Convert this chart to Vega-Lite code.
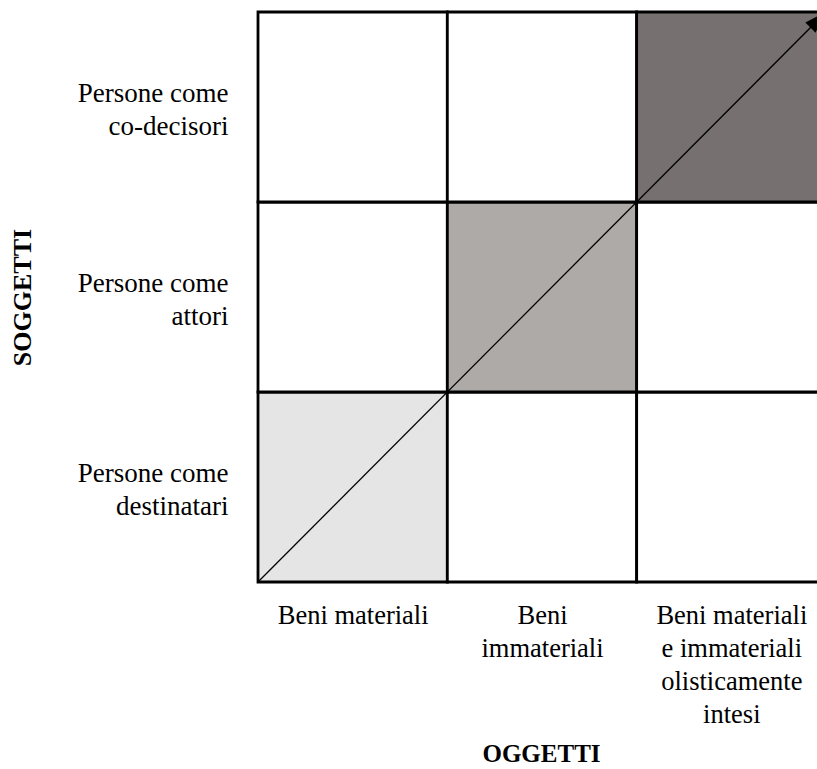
{
  "$schema": "https://vega.github.io/schema/vega-lite/v6.json",
  "width": 559,
  "height": 570,
  "autosize": {"type": "none"},
  "padding": {"left": 258, "top": 12, "right": 0, "bottom": 187},
  "background": "white",
  "config": {"view": {"stroke": null}, "font": "Liberation Serif"},
  "layer": [
    {
      "data": {"values": [
        {"oggetto": "Beni materiali", "o0": 0, "o1": 1, "soggetto": "Persone come destinatari", "s0": 0, "s1": 1, "livello": "basso"},
        {"oggetto": "Beni immateriali", "o0": 1, "o1": 2, "soggetto": "Persone come destinatari", "s0": 0, "s1": 1, "livello": "nessuno"},
        {"oggetto": "Beni materiali e immateriali olisticamente intesi", "o0": 2, "o1": 3, "soggetto": "Persone come destinatari", "s0": 0, "s1": 1, "livello": "nessuno"},
        {"oggetto": "Beni materiali", "o0": 0, "o1": 1, "soggetto": "Persone come attori", "s0": 1, "s1": 2, "livello": "nessuno"},
        {"oggetto": "Beni immateriali", "o0": 1, "o1": 2, "soggetto": "Persone come attori", "s0": 1, "s1": 2, "livello": "medio"},
        {"oggetto": "Beni materiali e immateriali olisticamente intesi", "o0": 2, "o1": 3, "soggetto": "Persone come attori", "s0": 1, "s1": 2, "livello": "nessuno"},
        {"oggetto": "Beni materiali", "o0": 0, "o1": 1, "soggetto": "Persone come co-decisori", "s0": 2, "s1": 3, "livello": "nessuno"},
        {"oggetto": "Beni immateriali", "o0": 1, "o1": 2, "soggetto": "Persone come co-decisori", "s0": 2, "s1": 3, "livello": "nessuno"},
        {"oggetto": "Beni materiali e immateriali olisticamente intesi", "o0": 2, "o1": 3, "soggetto": "Persone come co-decisori", "s0": 2, "s1": 3, "livello": "alto"}
      ]},
      "mark": {"type": "rect", "stroke": "black", "strokeWidth": 2.8},
      "encoding": {
        "x": {
          "field": "o0", "type": "quantitative",
          "scale": {"domain": [0, 2.9525], "nice": false, "zero": false},
          "axis": {
            "values": [0.5, 1.5, 2.5],
            "labelExpr": "datum.value < 1 ? ['Beni materiali'] : datum.value < 2 ? ['Beni', 'immateriali'] : ['Beni materiali', 'e immateriali', 'olisticamente', 'intesi']",
            "title": "OGGETTI",
            "titleFont": "Liberation Serif",
            "titleFontSize": 25,
            "titleFontWeight": "bold",
            "titleColor": "black",
            "titleX": 283,
            "titlePadding": 14,
            "labelFont": "Liberation Serif",
            "labelFontSize": 26.5,
            "labelLineHeight": 33,
            "labelBaseline": "top",
            "labelAlign": "center",
            "labelPadding": 20,
            "labelColor": "black",
            "labelFlush": false,
            "labelOverlap": false,
            "labelBound": false,
            "ticks": false,
            "domain": false,
            "grid": false
          }
        },
        "x2": {"field": "o1"},
        "y": {
          "field": "s0", "type": "quantitative",
          "scale": {"domain": [0, 3], "nice": false, "zero": false},
          "axis": {
            "values": [0.5, 1.5, 2.5],
            "labelExpr": "datum.value < 1 ? ['Persone come', 'destinatari'] : datum.value < 2 ? ['Persone come', 'attori'] : ['Persone come', 'co-decisori']",
            "title": "SOGGETTI",
            "titleFont": "Liberation Serif",
            "titleFontSize": 26,
            "titleFontWeight": "bold",
            "titleColor": "black",
            "titlePadding": 42,
            "labelFont": "Liberation Serif",
            "labelFontSize": 27,
            "labelLineHeight": 33,
            "labelBaseline": "middle",
            "labelAlign": "right",
            "labelPadding": 30,
            "labelOffset": -14,
            "labelColor": "black",
            "labelFlush": false,
            "labelOverlap": false,
            "labelBound": false,
            "ticks": false,
            "domain": false,
            "grid": false
          }
        },
        "y2": {"field": "s1"},
        "color": {
          "field": "livello", "type": "nominal",
          "scale": {"domain": ["nessuno", "basso", "medio", "alto"], "range": ["#ffffff", "#e5e5e5", "#aeaaa8", "#767170"]},
          "legend": null
        }
      }
    },
    {
      "data": {"values": [{"da_o": 0, "da_s": 0, "a_o": 3, "a_s": 3}]},
      "mark": {"type": "rule", "color": "black", "strokeWidth": 1.3, "clip": true},
      "encoding": {
        "x": {"field": "da_o", "type": "quantitative"},
        "y": {"field": "da_s", "type": "quantitative"},
        "x2": {"field": "a_o"},
        "y2": {"field": "a_s"}
      }
    },
    {
      "data": {"values": [{"a_o": 3, "a_s": 3}]},
      "mark": {"type": "point", "shape": "M0,0L-0.33,1L0.33,1Z", "angle": 45, "size": 1936, "filled": true, "color": "black", "opacity": 1, "clip": true},
      "encoding": {
        "x": {"field": "a_o", "type": "quantitative"},
        "y": {"field": "a_s", "type": "quantitative"}
      }
    }
  ]
}
